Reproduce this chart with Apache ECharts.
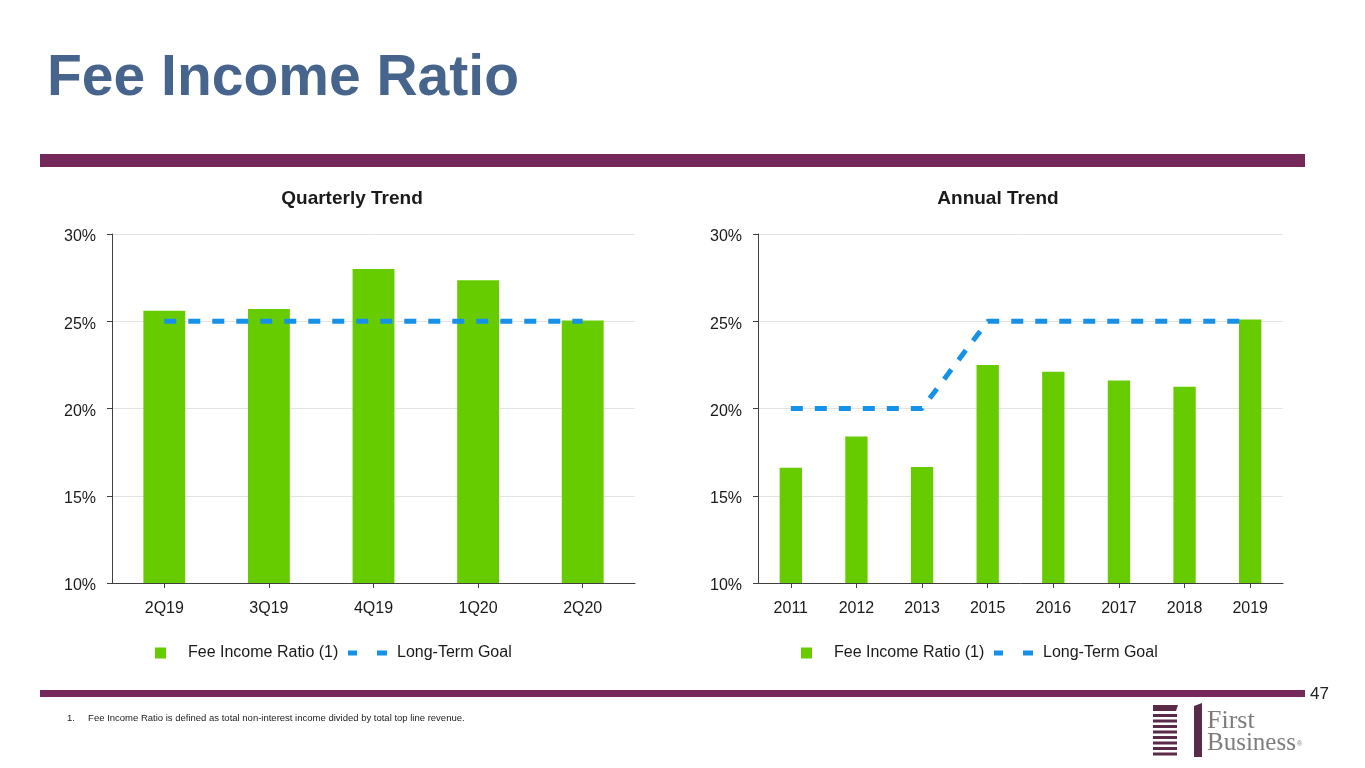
<!DOCTYPE html>
<html>
<head>
<meta charset="utf-8">
<script src="https://cdn.jsdelivr.net/npm/echarts@6/dist/echarts.min.js"></script>
<style>
  html, body { margin: 0; padding: 0; background: #ffffff; }
  #chart { width: 1365px; height: 768px; }
</style>
</head>
<body>
<div id="chart"></div>
<script>
// ---- Data ----
const quarterCategories = ['2Q19', '3Q19', '4Q19', '1Q20', '2Q20'];
const quarterFeeRatio = [25.6, 25.7, 28.0, 27.35, 25.05];
const quarterGoal = [25, 25, 25, 25, 25];

const annualCategories = ['2011', '2012', '2013', '2015', '2016', '2017', '2018', '2019'];
const annualFeeRatio = [16.6, 18.4, 16.65, 22.5, 22.1, 21.6, 21.25, 25.1];
const annualGoal = [20, 20, 20, 25, 25, 25, 25, 25];

const yTicks = { min: 10, max: 30, interval: 5 };

const seriesNames = ['Fee Income Ratio (1)', 'Long-Term Goal'];
const pageTitle = 'Fee Income Ratio';
const chartTitles = ['Quarterly Trend', 'Annual Trend'];
const footnote = '1.     Fee Income Ratio is defined as total non-interest income divided by total top line revenue.';
const pageNumber = '47';

// ---- Styles ----
const GREEN = '#66CC00';
const BLUE = '#1591E8';
const PURPLE = '#74295A';
const TEXT = '#1a1a1a';
const FONT = 'Liberation Sans, Arial, sans-serif';
const SERIF = 'Liberation Serif, Times New Roman, serif';

function yAxisCfg(gridIndex) {
  return {
    type: 'value', gridIndex: gridIndex,
    min: yTicks.min, max: yTicks.max, interval: yTicks.interval,
    axisLine: { show: true, lineStyle: { color: '#404040', width: 1 } },
    axisTick: { show: true, length: 5, lineStyle: { color: '#404040' } },
    axisLabel: {
      formatter: function (v) { return '{a|' + v + '%}'; },
      margin: 16,
      rich: { a: { fontSize: 16, color: TEXT, fontFamily: FONT, padding: [6, 0, 0, 0] } }
    },
    splitLine: { show: true, lineStyle: { color: '#e3e3e3', width: 1 } }
  };
}
function xAxisCfg(gridIndex, cats) {
  return {
    type: 'category', gridIndex: gridIndex, data: cats,
    axisLine: { show: true, lineStyle: { color: '#404040', width: 1 } },
    axisTick: { show: true, alignWithLabel: true, length: 5, lineStyle: { color: '#404040' } },
    axisLabel: { fontSize: 16, color: TEXT, fontFamily: FONT, margin: 18 }
  };
}
function barLegend(left) {
  return {
    left: left, top: 643, orient: 'horizontal', padding: 0,
    data: [seriesNames[0]], icon: 'rect', itemWidth: 11, itemHeight: 11,
    textStyle: { fontSize: 16, color: TEXT, fontFamily: FONT, padding: [0, 0, 0, 17], lineHeight: 20 },
    selectedMode: false
  };
}
function lineLegend(left) {
  return {
    left: left, top: 643, orient: 'horizontal', padding: 0,
    data: [seriesNames[1]], icon: 'path://M0,0h9v5h-9z M29,0h10v5h-10z',
    itemWidth: 39, itemHeight: 5,
    textStyle: { fontSize: 16, color: TEXT, fontFamily: FONT, padding: [0, 0, 0, 5], lineHeight: 20 },
    selectedMode: false
  };
}

const chart = echarts.init(document.getElementById('chart'), null, { renderer: 'canvas' });

const option = {
  backgroundColor: '#ffffff',
  animation: false,
  textStyle: { fontFamily: FONT },
  title: [
    { text: chartTitles[0], left: 352, top: 189, textAlign: 'center', padding: 0,
      textStyle: { fontSize: 19, fontWeight: 'bold', color: TEXT, fontFamily: FONT } },
    { text: chartTitles[1], left: 998, top: 189, textAlign: 'center', padding: 0,
      textStyle: { fontSize: 19, fontWeight: 'bold', color: TEXT, fontFamily: FONT } }
  ],
  legend: [barLegend(155), lineLegend(348), barLegend(801), lineLegend(994)],
  grid: [
    { left: 112, top: 234, width: 523, height: 349 },
    { left: 758, top: 234, width: 525, height: 349 }
  ],
  xAxis: [xAxisCfg(0, quarterCategories), xAxisCfg(1, annualCategories)],
  yAxis: [yAxisCfg(0), yAxisCfg(1)],
  series: [
    { name: seriesNames[0], type: 'bar', xAxisIndex: 0, yAxisIndex: 0,
      data: quarterFeeRatio, barWidth: '40%', itemStyle: { color: GREEN }, z: 2 },
    { name: seriesNames[1], type: 'line', xAxisIndex: 0, yAxisIndex: 0,
      data: quarterGoal, symbol: 'none', color: BLUE,
      lineStyle: { color: BLUE, width: 5, type: [12, 12] }, z: 3 },
    { name: seriesNames[0], type: 'bar', xAxisIndex: 1, yAxisIndex: 1,
      data: annualFeeRatio, barWidth: '34%', itemStyle: { color: GREEN }, z: 2 },
    { name: seriesNames[1], type: 'line', xAxisIndex: 1, yAxisIndex: 1,
      data: annualGoal, symbol: 'none', color: BLUE,
      lineStyle: { color: BLUE, width: 5, type: [12, 12] }, z: 3 }
  ],
  graphic: [
    // page title
    { type: 'text', left: 47, top: 51,
      style: { text: pageTitle, fontSize: 57, fontWeight: 'bold', fill: '#46648C', fontFamily: FONT } },
    // top divider
    { type: 'rect', shape: { x: 40, y: 154, width: 1265, height: 13 }, style: { fill: PURPLE } },
    // bottom divider
    { type: 'rect', shape: { x: 40, y: 690, width: 1265, height: 7 }, style: { fill: PURPLE } },
    { type: 'text', left: 1310, top: 686,
      style: { text: pageNumber, fontSize: 17, fill: '#222222', fontFamily: FONT } },
    // footnote
    { type: 'text', left: 67, top: 713,
      style: { text: footnote, fontSize: 9.5, fill: '#222222', fontFamily: FONT } },
    // logo
    { type: 'polygon', shape: { points: [[1153, 705], [1178, 705], [1176, 711], [1153, 711]] }, style: { fill: '#5B2A48' } },
    { type: 'rect', shape: { x: 1153, y: 714, width: 24, height: 3 }, style: { fill: '#5B2A48' } },
    { type: 'rect', shape: { x: 1153, y: 719.5, width: 24, height: 3 }, style: { fill: '#5B2A48' } },
    { type: 'rect', shape: { x: 1153, y: 725, width: 24, height: 3 }, style: { fill: '#5B2A48' } },
    { type: 'rect', shape: { x: 1153, y: 730.5, width: 24, height: 3 }, style: { fill: '#5B2A48' } },
    { type: 'rect', shape: { x: 1153, y: 736, width: 24, height: 3 }, style: { fill: '#5B2A48' } },
    { type: 'rect', shape: { x: 1153, y: 741.5, width: 24, height: 3 }, style: { fill: '#5B2A48' } },
    { type: 'rect', shape: { x: 1153, y: 747, width: 24, height: 3 }, style: { fill: '#5B2A48' } },
    { type: 'rect', shape: { x: 1153, y: 752.5, width: 24, height: 3 }, style: { fill: '#5B2A48' } },
    { type: 'polygon', shape: { points: [[1194, 706], [1202, 703], [1202, 757], [1194, 757]] }, style: { fill: '#5B2A48' } },
    { type: 'text', left: 1207, top: 708,
      style: { text: 'First', fontSize: 26, fill: '#7d7d7d', fontFamily: SERIF } },
    { type: 'text', left: 1207, top: 731,
      style: { text: 'Business', fontSize: 25, fill: '#7d7d7d', fontFamily: SERIF } },
    { type: 'text', left: 1297, top: 741,
      style: { text: '®', fontSize: 7, fill: '#7d7d7d', fontFamily: FONT } }
  ]
};
chart.setOption(option);
</script>
</body>
</html>
